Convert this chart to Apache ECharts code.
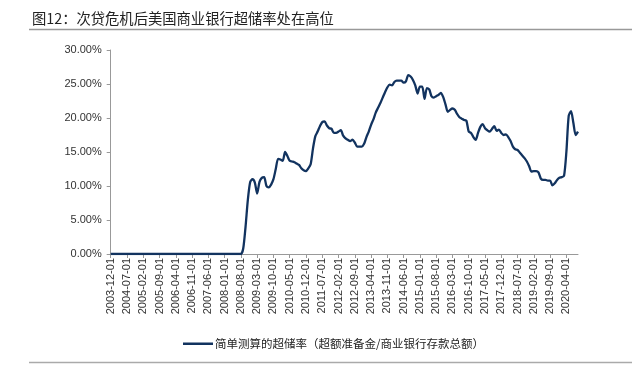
<!DOCTYPE html>
<html>
<head>
<meta charset="utf-8">
<script src="https://cdn.jsdelivr.net/npm/echarts@6/dist/echarts.min.js"></script>
<style>
  html, body { margin: 0; padding: 0; background: #fff; }
  #chart { width: 643px; height: 378px; }
</style>
</head>
<body>
<div id="chart"></div>
<script>
// 月度数据 2003-12 ~ 2020-09
var startYear = 2003, startMonth = 12, monthCount = 202;
var dates = [];
for (var i = 0; i < monthCount; i++) {
    var m = startMonth - 1 + i;
    var y = startYear + Math.floor(m / 12);
    var mm = (m % 12) + 1;
    dates.push(y + '-' + (mm < 10 ? '0' + mm : mm) + '-01');
}

// 2003-12 ~ 2008-08 超储率接近 0
var rate2003to2008 = [
    0, 0, 0, 0, 0, 0, 0, 0, 0, 0,
    0, 0, 0, 0, 0, 0, 0, 0, 0, 0,
    0, 0, 0, 0, 0, 0, 0, 0, 0, 0,
    0, 0, 0, 0, 0, 0, 0, 0, 0, 0,
    0, 0, 0, 0, 0, 0, 0, 0, 0, 0,
    0, 0, 0, 0, 0, 0, 0
];
// 2008-09 ~ 2014-06
var rate2008to2014 = [
    0.8, 4.0, 8.0, 10.6, 11.0, 10.5, 8.9, 10.6, 11.2, 11.3,
    10.0, 9.8, 10.2, 11.0, 12.5, 14.0, 13.9, 13.7, 15.0, 14.4,
    13.7, 13.6, 13.5, 13.3, 13.1, 12.6, 12.3, 12.2, 12.6, 13.2,
    15.5, 17.3, 18.0, 18.8, 19.4, 19.5, 18.9, 18.5, 18.4, 17.8,
    17.8, 18.0, 18.2, 17.4, 17.0, 16.8, 16.6, 16.8, 16.4, 15.8,
    15.8, 15.8, 16.2, 17.2, 18.0, 19.0, 19.8, 20.8, 21.5, 22.2,
    23.0, 23.8, 24.5, 24.9, 24.8, 25.3, 25.5, 25.5, 25.5
];
// 2014-07 ~ 2020-09
var rate2014to2020 = [
    25.2, 25.4, 26.3, 26.1, 25.6, 24.8, 23.6, 24.6, 24.6, 22.8,
    24.4, 24.2, 23.2, 23.0, 23.2, 23.4, 23.7, 23.1, 22.0, 20.9,
    21.2, 21.4, 21.2, 20.6, 20.1, 19.9, 19.7, 19.6, 18.0, 17.8,
    17.2, 16.8, 17.8, 18.7, 19.1, 18.5, 18.2, 18.0, 18.4, 18.8,
    18.1, 18.3, 17.8, 17.5, 17.6, 17.2, 16.6, 15.8, 15.4, 15.3,
    14.9, 14.5, 14.1, 13.6, 12.9, 12.1, 12.2, 12.2, 12.0, 11.1,
    10.9, 10.9, 10.8, 10.8, 10.1, 10.4, 10.9, 11.2, 11.3, 11.5,
    15.0, 20.3, 21.0, 19.3, 17.5, 18.0
];
var excessReserveRate = rate2003to2008.concat(rate2008to2014, rate2014to2020);

var seriesName = '简单测算的超储率（超额准备金/商业银行存款总额）';
var titleText = '图12：次贷危机后美国商业银行超储率处在高位';

var myChart = echarts.init(document.getElementById('chart'));
var option = {
    backgroundColor: '#fff',
    animation: false,
    title: {
        text: titleText,
        left: 27,
        top: 6,
        textStyle: {
            fontFamily: 'Noto Sans CJK SC',
            fontSize: 14.3,
            fontWeight: 'normal',
            color: '#222'
        }
    },
    graphic: [
        { type: 'line', shape: { x1: 29, y1: 29.5, x2: 632, y2: 29.5 }, style: { stroke: '#999', lineWidth: 1.5 } },
        { type: 'line', shape: { x1: 29, y1: 362.5, x2: 632, y2: 362.5 }, style: { stroke: '#aaa', lineWidth: 1.5 } }
    ],
    legend: {
        left: 178,
        top: 333,
        icon: 'rect',
        itemWidth: 30,
        itemHeight: 2.5,
        itemGap: 4,
        textStyle: {
            fontFamily: 'Noto Sans CJK SC',
            fontSize: 11.5,
            color: '#222',
            padding: [0, 0, 0, -3]
        },
        data: [seriesName]
    },
    grid: {
        left: 110.7,
        right: 65,
        top: 50,
        bottom: 124,
        containLabel: false
    },
    xAxis: {
        type: 'category',
        data: dates,
        boundaryGap: false,
        axisLine: { lineStyle: { color: '#999', width: 1 } },
        axisTick: { interval: 6, length: 4, lineStyle: { color: '#999' } },
        axisLabel: {
            interval: 6,
            rotate: 90,
            fontFamily: 'Liberation Sans',
            fontSize: 11,
            color: '#333',
            margin: 4
        },
        splitLine: { show: false }
    },
    yAxis: {
        type: 'value',
        min: 0,
        max: 30,
        interval: 5,
        axisLine: { show: true, lineStyle: { color: '#999', width: 1 } },
        axisTick: { show: true, length: 4, lineStyle: { color: '#999' } },
        axisLabel: {
            fontFamily: 'Liberation Sans',
            fontSize: 11,
            color: '#333',
            margin: 9,
            formatter: function (v) { return v.toFixed(2) + '%'; }
        },
        splitLine: { show: false }
    },
    series: [
        {
            name: seriesName,
            type: 'line',
            data: excessReserveRate,
            showSymbol: false,
            smooth: 0.25,
            lineStyle: { color: '#12335f', width: 2.3 },
            itemStyle: { color: '#12335f' }
        }
    ]
};
myChart.setOption(option);
</script>
</body>
</html>
